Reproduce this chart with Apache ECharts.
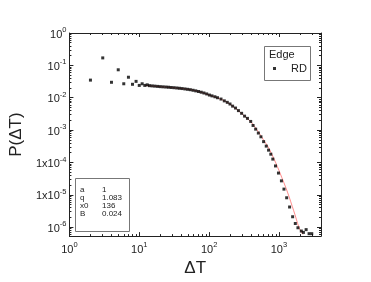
<!DOCTYPE html>
<html><head><meta charset="utf-8">
<script src="https://cdn.jsdelivr.net/npm/echarts@6/dist/echarts.min.js"></script>
<style>html,body{margin:0;padding:0;background:#fff}#c{width:371px;height:282px}</style>
</head><body><div id="c"></div>
<script>
// ---- data ----
const rdX = [2,3,4,5,6,7,8,9,10,11,12,13,
  14.0,15.3,16.7,18.3,20.0,21.9,24.0,26.2,28.7,31.4,34.4,37.6,41.1,45.0,49.2,53.8,58.9,64.4,70.5,77.1,84.3,92.3,101,110,121,132,
  148,165,182,199,217,239,263,292,322,354,394,426,464,507,552,603,658,710,765,817,892,984,1085,1180,1290,1420,1570,1715,1870,2090,2240,2450,2700,2950];
const rdY = [0.035,0.17,0.030,0.073,0.027,0.043,0.026,0.032,0.024,0.027,0.024,0.025,
  0.0236,0.0232,0.0228,0.0224,0.0220,0.0217,0.0214,0.0211,0.0207,0.0204,0.0200,0.0196,0.0192,0.0187,0.0182,0.0177,0.0170,0.0163,0.0156,0.0148,0.0140,0.0131,0.0121,0.0114,0.0107,0.0100,
  0.0091,0.0080,0.0072,0.0064,0.0055,0.0048,0.0040,0.0033,0.0027,0.0023,0.00185,0.00139,0.00107,0.00081,0.00062,0.00044,0.00032,0.00024,0.00018,0.000127,0.000078,0.000047,0.000027,0.000015,0.0000081,0.0000042,0.0000021,0.0000013,0.00000096,0.00000076,0.00000069,0.00000084,0.00000063,0.00000063];
const fitX = [12,14,20,30,50,70,100,150,200,300,400,500,600,700,800,900,1000,1100,1250,1400,1550,1700,1850,2000,2200];
const fitY = [0.0240,0.0234,0.0219,0.0205,0.0182,0.0157,0.0122,0.0089,0.0063,0.0031,0.00175,0.00092,0.00050,0.00030,0.000170,0.000097,0.000057,0.000034,0.000017,0.0000086,0.0000044,0.0000024,0.0000013,0.00000084,0.00000060];

const xMajor = [1,10,100,1000];
const xMajorBase = ['10','10','10','10'];
const xMajorExp = ['0','1','2','3'];
const yMajor = [1e-6,1e-5,1e-4,1e-3,1e-2,1e-1,1];
const yMajorBase = ['10','1x10','1x10','10','10','10','10'];
const yMajorExp = ['-6','-5','-4','-3','-2','-1','0'];
const minorMult = [2,3,4,5,6,7,8,9];
const xDecades = [1,10,100,1000];
const yDecades = [1e-7,1e-6,1e-5,1e-4,1e-3,1e-2,1e-1];
const paramNames = ['a','q','x0','B'];
const paramValues = ['1','1.083','136','0.024'];
const seriesName = 'RD';
const legendTitle = 'Edge';

const X_MIN = 1, X_MAX = 4000, Y_MIN = 5.3e-7, Y_MAX = 1;
const FONT = 'Liberation Sans, Arial, sans-serif';

const xMinor = [], yMinor = [];
xDecades.forEach(d => minorMult.forEach(m => { const v = m * d; if (v < X_MAX) xMinor.push(v); }));
yDecades.forEach(d => minorMult.forEach(m => { const v = m * d; if (v > Y_MIN && v < Y_MAX) yMinor.push(v); }));

function nearestIdx(arr, v) {
  let bi = -1, bd = 1e9;
  arr.forEach((a, i) => { const d = Math.abs(Math.log10(a) - Math.log10(v)); if (d < bd) { bd = d; bi = i; } });
  return bd < 1e-6 ? bi : -1;
}
const rich = {
  b: { fontSize: 11, fontFamily: FONT, color: '#222', lineHeight: 14, verticalAlign: 'bottom' },
  s: { fontSize: 7.5, fontFamily: FONT, color: '#222', lineHeight: 8, verticalAlign: 'top' }
};
const lineStyle = { color: '#222', width: 1 };

function axis(kind, pos, ticks, len, showLine, label) {
  const isX = kind === 'x';
  const a = {
    type: 'log', logBase: 10, position: pos,
    min: isX ? X_MIN : Y_MIN, max: isX ? X_MAX : Y_MAX,
    axisLine: { show: showLine, onZero: false, lineStyle },
    axisTick: { show: true, inside: true, length: len, customValues: ticks, lineStyle },
    minorTick: { show: false }, splitLine: { show: false },
    axisLabel: { show: false }
  };
  if (label) {
    if (isX) {
      a.axisLabel = { show: true, customValues: xMajor, margin: 5, rich,
        formatter: v => { const i = nearestIdx(xMajor, v); return i < 0 ? '' : '{b|' + xMajorBase[i] + '}{s|' + xMajorExp[i] + '}'; } };
      a.name = 'ΔT'; a.nameLocation = 'middle'; a.nameGap = 19;
      a.nameTextStyle = { fontSize: 17, fontFamily: FONT, color: '#222' };
    } else {
      a.axisLabel = { show: true, customValues: yMajor, margin: 3, rich,
        formatter: v => { const i = nearestIdx(yMajor, v); return i < 0 ? '' : '{b|' + yMajorBase[i] + '}{s|' + yMajorExp[i] + '}'; } };
      a.name = 'P(ΔT)'; a.nameLocation = 'middle'; a.nameGap = 35;
      a.nameTextStyle = { fontSize: 17, fontFamily: FONT, color: '#222' };
    }
  }
  return a;
}

const chart = echarts.init(document.getElementById('c'), null, { renderer: 'canvas' });
const paramGraphics = [];
paramNames.forEach((n, i) => {
  paramGraphics.push({ type: 'text', left: 80, top: 186 + i * 8, style: { text: n, fontSize: 8, fontFamily: FONT, fill: '#222' } });
  paramGraphics.push({ type: 'text', left: 102, top: 186 + i * 8, style: { text: paramValues[i], fontSize: 8, fontFamily: FONT, fill: '#222' } });
});
chart.setOption({
  animation: false,
  backgroundColor: '#fff',
  grid: { left: 67, top: 33, width: 254, height: 206, containLabel: false },
  xAxis: [
    axis('x', 'bottom', xMajor, 4, true, true),
    axis('x', 'bottom', xMinor, 2, false, false),
    axis('x', 'top', xMajor, 4, true, false),
    axis('x', 'top', xMinor, 2, false, false)
  ],
  yAxis: [
    axis('y', 'left', yMajor, 4, true, true),
    axis('y', 'left', yMinor, 2, false, false),
    axis('y', 'right', yMajor, 4, true, false),
    axis('y', 'right', yMinor, 2, false, false)
  ],
  legend: {
    data: [seriesName], left: 273, top: 63, itemWidth: 3, itemHeight: 3, itemGap: 0,
    icon: 'rect', padding: 0,
    textStyle: { fontSize: 11, fontFamily: FONT, color: '#222', padding: [0, 0, 0, 10] }
  },
  graphic: [
    { type: 'rect', shape: { x: 264.5, y: 46.5, width: 46, height: 34 }, style: { fill: 'none', stroke: '#777', lineWidth: 1 }, z: 10 },
    { type: 'text', left: 269, top: 49, style: { text: legendTitle, fontSize: 11, fontFamily: FONT, fill: '#222' }, z: 10 },
    { type: 'rect', shape: { x: 75.5, y: 178.5, width: 54, height: 53 }, style: { fill: 'none', stroke: '#777', lineWidth: 1 }, z: 10 }
  ].concat(paramGraphics),
  series: [
    { type: 'line', name: 'fit', data: fitX.map((x, i) => [x, fitY[i]]), xAxisIndex: 0, yAxisIndex: 0,
      showSymbol: false, symbol: 'none', smooth: 0.3, lineStyle: { color: '#ff5a5a', width: 0.7 }, z: 2, silent: true },
    { type: 'scatter', name: seriesName, data: rdX.map((x, i) => [x, rdY[i]]), xAxisIndex: 0, yAxisIndex: 0,
      symbol: 'rect', symbolSize: 3, itemStyle: { color: '#000' }, z: 3 }
  ]
});
</script></body></html>
